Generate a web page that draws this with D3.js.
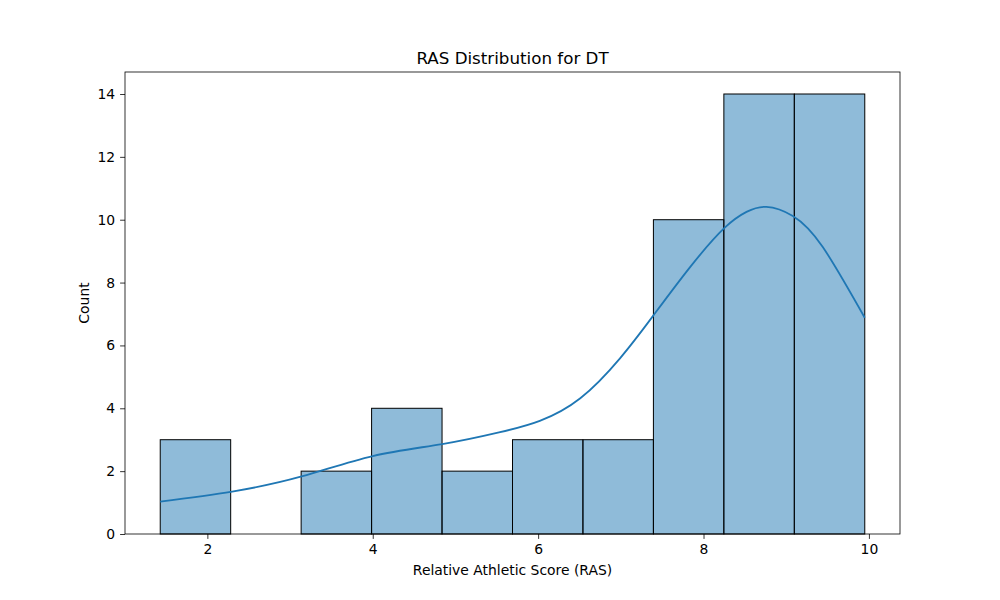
<!DOCTYPE html>
<html lang="en">
<head>
  <meta charset="UTF-8">
  <title>RAS Distribution for DT</title>
  <script src="https://cdn.jsdelivr.net/npm/d3@7/dist/d3.min.js"></script>
  <style>
    body { margin: 0; background: #fff; }
    text { font-family: "DejaVu Sans", sans-serif; fill: #000; }
  </style>
</head>
<body>
<div id="grafica"></div>

<script>
// histogram bins (10 bins between min and max RAS)
const binMin = 1.43
const binMax = 9.95
const counts = [3, 0, 2, 4, 2, 3, 3, 10, 14, 14]

// kde curve
const kdeX = [1.43, 2.30, 3.14, 4.00, 4.84, 5.54, 6.02, 6.51, 6.99, 7.39, 7.84, 8.25, 8.52, 8.76, 9.08, 9.44, 9.95]
const kdeY = [1.03, 1.35, 1.83, 2.48, 2.86, 3.24, 3.60, 4.32, 5.59, 6.94, 8.50, 9.73, 10.25, 10.41, 10.12, 9.14, 6.88]

const xTicks = [2, 4, 6, 8, 10]
const yTicks = [0, 2, 4, 6, 8, 10, 12, 14]

const ancho_total = 1000
const alto_total = 600
const margin = {left: 125, right: 100, top: 72, bottom: 66}
const ancho = ancho_total - margin.left - margin.right
const alto = alto_total - margin.top - margin.bottom

const svg = d3.select('#grafica')
  .append('svg')
  .attr('width', ancho_total)
  .attr('height', alto_total)

const g = svg.append('g')
  .attr('transform', `translate(${margin.left},${margin.top})`)

const span = binMax - binMin
const x = d3.scaleLinear()
  .domain([binMin - span * 0.05, binMax + span * 0.05])
  .range([0, ancho])

const y = d3.scaleLinear()
  .domain([0, d3.max(counts) * 1.05])
  .range([alto, 0])

const binW = span / counts.length
const bins = counts.map((c, i) => ({x0: binMin + i * binW, x1: binMin + (i + 1) * binW, c: c}))

// bars
g.selectAll('rect.bar')
  .data(bins.filter(d => d.c > 0))
  .enter()
  .append('rect')
    .attr('class', 'bar')
    .attr('x', d => x(d.x0))
    .attr('y', d => y(d.c))
    .attr('width', d => x(d.x1) - x(d.x0))
    .attr('height', d => y(0) - y(d.c))
    .attr('fill', '#1f77b4')
    .attr('fill-opacity', 0.5)
    .attr('stroke', '#000')
    .attr('stroke-width', 1)

// kde line
const kde = kdeX.map((v, i) => [v, kdeY[i]])
const line = d3.line()
  .x(d => x(d[0]))
  .y(d => y(d[1]))
  .curve(d3.curveNatural)

g.append('path')
  .datum(kde)
  .attr('d', line)
  .attr('fill', 'none')
  .attr('stroke', '#1f77b4')
  .attr('stroke-width', 1.8)

// axes
const xAxisCall = d3.axisBottom(x).tickValues(xTicks).tickSize(4.9).tickPadding(4.9)
g.append('g')
  .attr('transform', `translate(0,${alto})`)
  .call(xAxisCall)

const yAxisCall = d3.axisLeft(y).tickValues(yTicks).tickSize(4.9).tickPadding(4.9)
g.append('g').call(yAxisCall)

svg.selectAll('.domain').remove()
svg.selectAll('.tick line').attr('stroke', '#000').attr('stroke-width', 0.8)
svg.selectAll('.tick text').style('font-size', '13.9px').style('font-family', '"DejaVu Sans", sans-serif')

// frame
g.append('rect')
  .attr('x', 0)
  .attr('y', 0)
  .attr('width', ancho)
  .attr('height', alto)
  .attr('fill', 'none')
  .attr('stroke', '#000')
  .attr('stroke-width', 0.8)

// labels
svg.append('text')
  .attr('x', margin.left + ancho / 2)
  .attr('y', margin.top - 8)
  .attr('text-anchor', 'middle')
  .style('font-size', '16.7px')
  .text('RAS Distribution for DT')

svg.append('text')
  .attr('x', margin.left + ancho / 2)
  .attr('y', 575)
  .attr('text-anchor', 'middle')
  .style('font-size', '13.9px')
  .text('Relative Athletic Score (RAS)')

svg.append('text')
  .attr('transform', `translate(89,${margin.top + alto / 2}) rotate(-90)`)
  .attr('text-anchor', 'middle')
  .style('font-size', '13.9px')
  .text('Count')
</script>
</body>
</html>
